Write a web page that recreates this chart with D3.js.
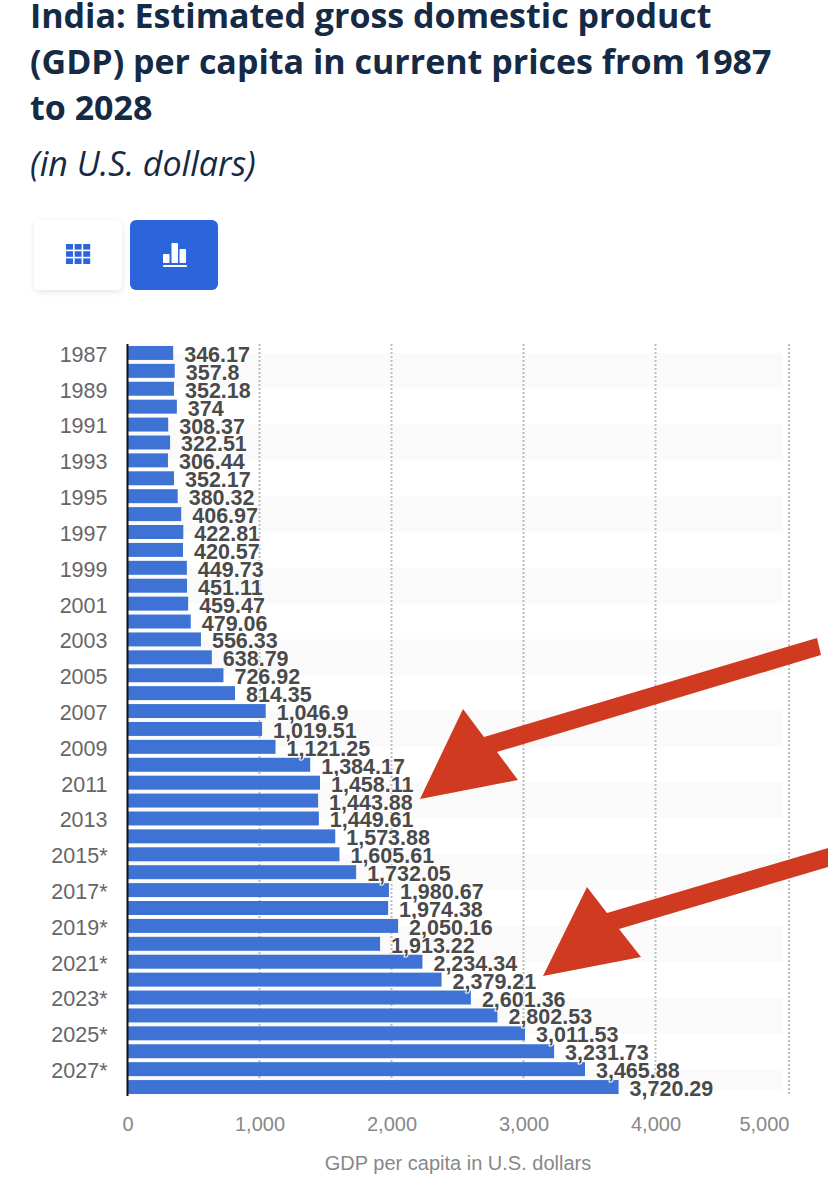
<!DOCTYPE html>
<html>
<head>
<meta charset="utf-8">
<script src="https://cdn.jsdelivr.net/npm/d3@7"></script>
<style>
  html, body { margin: 0; padding: 0; background: #fff; }
  svg { display: block; }
</style>
</head>
<body>
<svg id="chart"></svg>
<script>
const titleLines = [
  "India: Estimated gross domestic product",
  "(GDP) per capita in current prices from 1987",
  "to 2028"
];
const subtitle = "(in U.S. dollars)";
const axisTitle = "GDP per capita in U.S. dollars";

const years = [
  "1987", "1988", "1989", "1990", "1991", "1992", "1993", "1994", "1995", "1996", "1997",
  "1998", "1999", "2000", "2001", "2002", "2003", "2004", "2005", "2006", "2007", "2008",
  "2009", "2010", "2011", "2012", "2013", "2014", "2015*", "2016*", "2017*", "2018*",
  "2019*", "2020*", "2021*", "2022*", "2023*", "2024*", "2025*", "2026*", "2027*", "2028*"
];
const gdpPerCapita = [
  346.17, 357.8, 352.18, 374, 308.37, 322.51, 306.44, 352.17, 380.32, 406.97, 422.81,
  420.57, 449.73, 451.11, 459.47, 479.06, 556.33, 638.79, 726.92, 814.35, 1046.9, 1019.51,
  1121.25, 1384.17, 1458.11, 1443.88, 1449.61, 1573.88, 1605.61, 1732.05, 1980.67, 1974.38,
  2050.16, 1913.22, 2234.34, 2379.21, 2601.36, 2802.53, 3011.53, 3231.73, 3465.88, 3720.29
];
const xTicks = [0, 1000, 2000, 3000, 4000, 5000];

const svg = d3.select("#chart").attr("width", 828).attr("height", 1189);

const x = d3.scaleLinear().domain([0, 5000]).range([127.5, 787.5]);
const y = d3.scaleBand().domain(years).range([344, 1096]).paddingInner(0.22).paddingOuter(0.11);
const fmt = d3.format(",");
const plotRight = 789; // the last grid line sits on the plot edge

// heading
const titleFont = "'Open Sans', sans-serif";
svg.append("g").selectAll("text").data(titleLines).join("text")
  .attr("x", 30)
  .attr("y", (d, i) => 28 + i * 46)
  .attr("font-family", titleFont)
  .attr("font-weight", 700)
  .attr("font-size", 34)
  .attr("fill", "#142a45")
  .text(d => d);

svg.append("text")
  .attr("x", 30)
  .attr("y", 176)
  .attr("font-family", titleFont)
  .attr("font-style", "italic")
  .attr("font-size", 34)
  .attr("fill", "#142a45")
  .text(subtitle);

// table / chart buttons
const defs = svg.append("defs");
const shadow = defs.append("filter").attr("id", "btnShadow")
  .attr("x", "-20%").attr("y", "-20%").attr("width", "140%").attr("height", "140%");
shadow.append("feDropShadow")
  .attr("dx", 0).attr("dy", 2).attr("stdDeviation", 3)
  .attr("flood-color", "#000").attr("flood-opacity", 0.1);

svg.append("rect")
  .attr("x", 34).attr("y", 220).attr("width", 88).attr("height", 70).attr("rx", 6)
  .attr("fill", "#fff").attr("filter", "url(#btnShadow)");
svg.append("rect")
  .attr("x", 130).attr("y", 220).attr("width", 88).attr("height", 70).attr("rx", 6)
  .attr("fill", "#2c64dc");

const tableIcon = svg.append("g").attr("fill", "#2c64dc");
d3.range(3).forEach(r => d3.range(3).forEach(c => {
  tableIcon.append("rect")
    .attr("x", 66 + c * 8.6).attr("y", 244 + r * 7.2)
    .attr("width", 7).attr("height", 5.6);
}));
const chartIcon = svg.append("g").attr("fill", "#fff");
[[163, 254, 6.5, 9], [171.5, 243, 6.5, 20], [179.5, 249, 6.5, 14], [163, 265, 24, 2]].forEach(b => {
  chartIcon.append("rect")
    .attr("x", b[0]).attr("y", b[1]).attr("width", b[2]).attr("height", b[3]).attr("rx", 0.8);
});

// zebra bands, two rows wide, every other pair of years
svg.append("g").selectAll("rect")
  .data(years.filter((d, i) => i % 4 === 0))
  .join("rect")
  .attr("x", x(0))
  .attr("y", d => y(d) + y.bandwidth() / 2)
  .attr("width", 783 - x(0))
  .attr("height", d => Math.min(y.step() * 2, 1089 - (y(d) + y.bandwidth() / 2)))
  .attr("fill", "#fafafa");

// grid
svg.append("g").selectAll("line")
  .data(xTicks.slice(1))
  .join("line")
  .attr("x1", d => d === 5000 ? plotRight : x(d))
  .attr("x2", d => d === 5000 ? plotRight : x(d))
  .attr("y1", 344).attr("y2", 1094)
  .attr("stroke", "#bdbdbd")
  .attr("stroke-width", 2)
  .attr("stroke-dasharray", "2 2");

// bars
svg.append("g").selectAll("rect")
  .data(gdpPerCapita)
  .join("rect")
  .attr("x", x(0))
  .attr("y", (d, i) => y(years[i]))
  .attr("width", d => x(d) - x(0))
  .attr("height", y.bandwidth())
  .attr("fill", "#3e72d5");

// value labels with white halo
svg.append("g").selectAll("text")
  .data(gdpPerCapita)
  .join("text")
  .attr("x", d => x(d) + 11)
  .attr("y", (d, i) => y(years[i]) + y.bandwidth() / 2 + 9)
  .attr("font-family", "'Liberation Sans', Arial, sans-serif")
  .attr("font-weight", 700)
  .attr("font-size", 21.5)
  .attr("fill", "#4a4a4a")
  .attr("stroke", "#fff")
  .attr("stroke-width", 2)
  .attr("stroke-linejoin", "round")
  .attr("paint-order", "stroke")
  .text(d => fmt(d));

// y axis
const yAxis = svg.append("g")
  .attr("transform", `translate(${x(0)},2)`)
  .call(d3.axisLeft(y).tickValues(years.filter((d, i) => i % 2 === 0)).tickSize(0).tickPadding(20));
yAxis.select(".domain").remove();
yAxis.selectAll("text")
  .attr("font-family", "'Liberation Sans', Arial, sans-serif")
  .attr("font-size", 21.5)
  .attr("fill", "#666");
svg.append("line")
  .attr("x1", x(0)).attr("x2", x(0))
  .attr("y1", 344).attr("y2", 1096)
  .attr("stroke", "#111")
  .attr("stroke-width", 2);

// x axis
const xAxis = svg.append("g")
  .attr("transform", "translate(0,1107)")
  .call(d3.axisBottom(x).tickValues(xTicks).tickFormat(fmt).tickSize(0).tickPadding(10));
xAxis.select(".domain").remove();
xAxis.selectAll("text")
  .attr("font-family", "'Liberation Sans', Arial, sans-serif")
  .attr("font-size", 20)
  .attr("fill", "#888")
  .attr("text-anchor", d => d === 5000 ? "end" : "middle")
  .attr("dx", d => d === 5000 ? plotRight - x(5000) : 0);

svg.append("text")
  .attr("x", 458)
  .attr("y", 1170)
  .attr("text-anchor", "middle")
  .attr("font-family", "'Liberation Sans', Arial, sans-serif")
  .attr("font-size", 20)
  .attr("fill", "#888")
  .text(axisTitle);

// red arrows drawn over the screenshot
const arrowPath = d3.line();
svg.append("path")
  .attr("d", arrowPath([[420, 799], [463, 709], [484, 737], [817, 638], [821, 655], [497, 752], [518, 780]]) + "Z")
  .attr("fill", "#cf3a20");
svg.append("path")
  .attr("d", arrowPath([[543, 976], [587, 887], [607, 913], [828, 848], [828, 867], [619, 929], [641, 957]]) + "Z")
  .attr("fill", "#cf3a20");
</script>
</body>
</html>
